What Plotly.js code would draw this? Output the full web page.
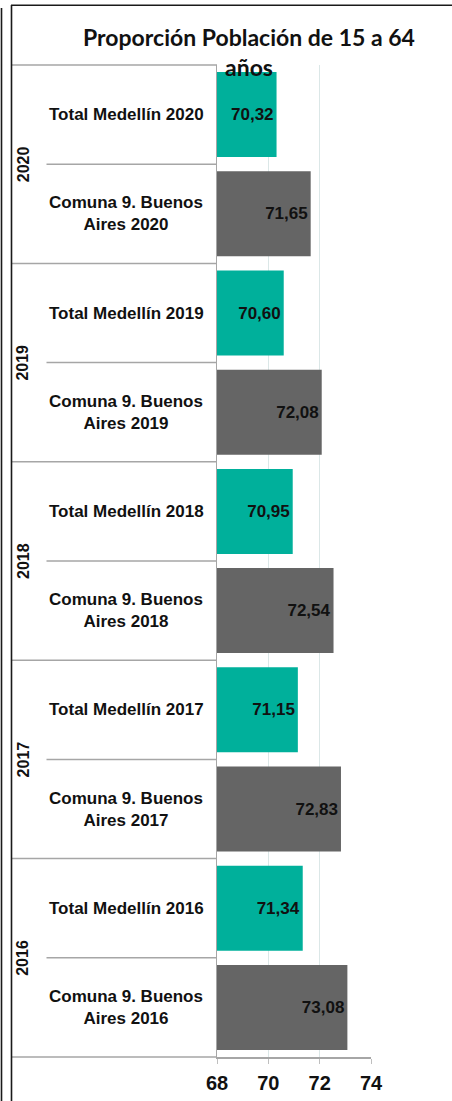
<!DOCTYPE html>
<html>
<head>
<meta charset="utf-8">
<script src="https://cdn.plot.ly/plotly-3.0.1.min.js"></script>
<style>
html,body{margin:0;padding:0;background:#fff;}
#chart{width:452px;height:1101px;}
</style>
</head>
<body>
<div id="chart"></div>
<script>
// ---- data ----
var years = ["2020", "2020", "2019", "2019", "2018", "2018", "2017", "2017", "2016", "2016"];
var categories = [
  "Total Medellín 2020", "Comuna 9. Buenos Aires 2020",
  "Total Medellín 2019", "Comuna 9. Buenos Aires 2019",
  "Total Medellín 2018", "Comuna 9. Buenos Aires 2018",
  "Total Medellín 2017", "Comuna 9. Buenos Aires 2017",
  "Total Medellín 2016", "Comuna 9. Buenos Aires 2016"
];
var labelText = [
  "Total Medellín 2020", "Comuna 9. Buenos<br>Aires 2020",
  "Total Medellín 2019", "Comuna 9. Buenos<br>Aires 2019",
  "Total Medellín 2018", "Comuna 9. Buenos<br>Aires 2018",
  "Total Medellín 2017", "Comuna 9. Buenos<br>Aires 2017",
  "Total Medellín 2016", "Comuna 9. Buenos<br>Aires 2016"
];
var values = [70.32, 71.65, 70.60, 72.08, 70.95, 72.54, 71.15, 72.83, 71.34, 73.08];
var xTicks = [68, 70, 72, 74];
var title = "Proporción Población de 15 a 64<br>años";

// ---- styling ----
var TEAL = "#00B09B", GREY = "#656565";
var colors = categories.map(function (c) { return c.indexOf("Total") === 0 ? TEAL : GREY; });
var textLabels = values.map(function (v) { return v.toFixed(2).replace(".", ","); });

var W = 452, H = 1101, L = 217, R = 81, T = 65, B = 44;
var pw = W - L - R, ph = H - T - B;
function px2x(p) { return (p - L) / pw; }
function px2y(p) { return (H - B - p) / ph; }

var FONT = "Liberation Sans, Arial, sans-serif";

var trace = {
  type: "bar",
  orientation: "h",
  y: categories,
  x: values,
  marker: { color: colors },
  text: textLabels,
  textposition: "inside",
  insidetextanchor: "end",
  textfont: { family: FONT, size: 17, weight: "bold", color: "#111" },
  constraintext: "none",
  cliponaxis: true,
  hoverinfo: "x+y"
};

var annotations = [];
categories.forEach(function (c, i) {
  annotations.push({
    xref: "paper", yref: "y", x: px2x(126), y: c,
    text: labelText[i], showarrow: false, align: "center",
    xanchor: "center", yanchor: "middle",
    font: { family: FONT, size: 17, weight: "bold", color: "#111" }
  });
});
// year group labels (rotated)
var groups = [];
years.forEach(function (y) { if (groups.indexOf(y) < 0) groups.push(y); });
groups.forEach(function (g) {
  var idx = [];
  years.forEach(function (y, i) { if (y === g) idx.push(i); });
  var mid = (idx[0] + idx[idx.length - 1]) / 2;
  annotations.push({
    xref: "paper", yref: "y", x: px2x(23), y: mid,
    text: g, showarrow: false, textangle: -90,
    xanchor: "center", yanchor: "middle",
    font: { family: FONT, size: 16, weight: "bold", color: "#111" }
  });
});

var LINE = { color: "#a6a6a6", width: 1.5 };
var shapes = [];
// table top & bottom
shapes.push({ type: "line", xref: "paper", yref: "paper", x0: px2x(12), x1: 0, y0: 1, y1: 1, line: LINE });
shapes.push({ type: "line", xref: "paper", yref: "paper", x0: px2x(12), x1: 0, y0: 0, y1: 0, line: LINE });
// separators
for (var i = 0; i < categories.length - 1; i++) {
  var groupBreak = years[i] !== years[i + 1];
  shapes.push({
    type: "line", xref: "paper", yref: "y",
    x0: groupBreak ? px2x(12) : px2x(46.5), x1: 0,
    y0: i + 0.5, y1: i + 0.5, line: LINE
  });
}
// outer frames
var FRAME = { color: "#1a1a1a", width: 1.6 };
shapes.push({ type: "line", xref: "paper", yref: "paper", x0: px2x(1.5), x1: px2x(1.5), y0: px2y(8), y1: px2y(1110), line: FRAME });
shapes.push({ type: "line", xref: "paper", yref: "paper", x0: px2x(11.5), x1: px2x(11.5), y0: px2y(5), y1: px2y(1110), line: FRAME });
shapes.push({ type: "line", xref: "paper", yref: "paper", x0: px2x(11), x1: px2x(460), y0: px2y(5.3), y1: px2y(5.3), line: FRAME });

var layout = {
  width: W, height: H,
  margin: { l: L, r: R, t: T, b: B, pad: 0 },
  paper_bgcolor: "#fff", plot_bgcolor: "#fff",
  showlegend: false,
  bargap: 0.143,
  title: {
    text: title,
    font: { family: "Lato, Carlito, Calibri, sans-serif", size: 23, weight: "bold", color: "#111" },
    xref: "container", x: 249 / W, xanchor: "center",
    yref: "container", y: 1 - 46 / H, yanchor: "top"
  },
  xaxis: {
    range: [68, 74], tickvals: xTicks, ticktext: xTicks.map(String),
    showgrid: true, gridcolor: "#dbe7e7", gridwidth: 1,
    zeroline: false,
    showline: true, linecolor: "#a6a6a6", linewidth: 1.5,
    ticks: "outside", ticklen: 5, tickcolor: "#bfbfbf",
    ticklabelstandoff: 2,
    tickfont: { family: FONT, size: 20, weight: "bold", color: "#111" },
    fixedrange: true
  },
  yaxis: {
    type: "category", categoryorder: "array", categoryarray: categories,
    autorange: "reversed",
    showticklabels: false, ticks: "",
    showgrid: false, zeroline: false,
    showline: true, linecolor: "#a6a6a6", linewidth: 1.5,
    fixedrange: true
  },
  annotations: annotations,
  shapes: shapes
};

Plotly.newPlot("chart", [trace], layout, { displayModeBar: false, staticPlot: true });
</script>
</body>
</html>
